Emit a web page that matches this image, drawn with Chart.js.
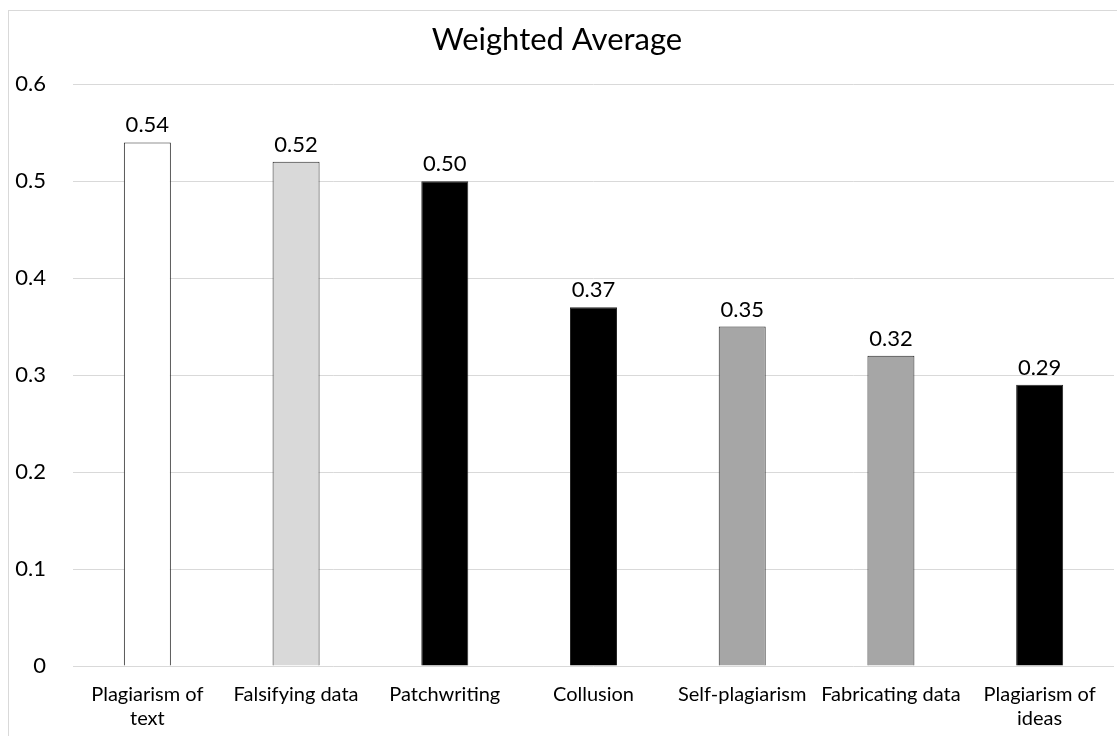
<!DOCTYPE html>
<html>
<head>
<meta charset="utf-8">
<script src="https://cdn.jsdelivr.net/npm/chart.js@4/dist/chart.umd.min.js"></script>
<style>
  html, body { margin: 0; padding: 0; background: #ffffff; }
  #wrap { position: relative; width: 1117px; height: 736px; }
</style>
</head>
<body>
<div id="wrap"><canvas id="chart" width="1117" height="736"></canvas></div>
<script>
// Misconduct categories and their weighted averages
const categories = [
  ["Plagiarism of", "text"],
  "Falsifying data",
  "Patchwriting",
  "Collusion",
  "Self-plagiarism",
  "Fabricating data",
  ["Plagiarism of", "ideas"]
];
const weightedAverage = [0.54, 0.52, 0.50, 0.37, 0.35, 0.32, 0.29];
const barColors = ["#ffffff", "#d9d9d9", "#000000", "#000000", "#a6a6a6", "#a6a6a6", "#000000"];
const yTickValues = [0, 0.1, 0.2, 0.3, 0.4, 0.5, 0.6];

const FONT = "Lato, 'Open Sans', sans-serif";

// Thin frame around the whole chart
const framePlugin = {
  id: "frame",
  beforeDraw(chart) {
    const ctx = chart.ctx;
    ctx.save();
    ctx.strokeStyle = "#d9d9d9";
    ctx.lineWidth = 1;
    ctx.strokeRect(8.5, 10.5, chart.width + 20, chart.height + 20);
    ctx.restore();
  }
};

// Value label above each bar
const valueLabels = {
  id: "valueLabels",
  afterDatasetsDraw(chart) {
    const ctx = chart.ctx;
    const meta = chart.getDatasetMeta(0);
    ctx.save();
    ctx.font = "22px " + FONT;
    ctx.fillStyle = "#000000";
    ctx.textAlign = "center";
    ctx.textBaseline = "bottom";
    meta.data.forEach((bar, i) => {
      const v = chart.data.datasets[0].data[i];
      ctx.fillText(v.toFixed(2), bar.x, bar.y - 6);
    });
    ctx.restore();
  }
};

new Chart(document.getElementById("chart"), {
  type: "bar",
  data: {
    labels: categories,
    datasets: [{
      label: "Weighted Average",
      data: weightedAverage,
      backgroundColor: barColors,
      borderColor: "#262626",
      borderWidth: 1,
      barPercentage: 0.316,
      categoryPercentage: 1.0
    }]
  },
  options: {
    responsive: false,
    animation: false,
    devicePixelRatio: 1,
    layout: { padding: { left: 0, right: 3, top: 0, bottom: 0 } },
    plugins: {
      legend: { display: false },
      tooltip: { enabled: false },
      title: {
        display: true,
        text: "Weighted Average",
        color: "#000000",
        font: { family: FONT, size: 31, weight: "normal", lineHeight: 1.2 },
        padding: { top: 21, bottom: 26 }
      }
    },
    scales: {
      x: {
        grid: { display: false, drawTicks: false },
        border: { display: false },
        ticks: {
          color: "#000000",
          font: { family: FONT, size: 20, lineHeight: 1.2 },
          padding: 17,
          maxRotation: 0,
          autoSkip: false
        },
        afterFit(scale) { scale.height = 70; }
      },
      y: {
        min: 0,
        max: 0.6,
        afterBuildTicks(scale) {
          scale.ticks = yTickValues.map(v => ({ value: v }));
        },
        grid: { color: "#d9d9d9", lineWidth: 1, drawTicks: false },
        border: { display: false },
        ticks: {
          color: "#000000",
          font: { family: FONT, size: 22 },
          padding: 27,
          callback: (v) => String(v)
        },
        afterFit(scale) { scale.width = 73; }
      }
    }
  },
  plugins: [framePlugin, valueLabels]
});
</script>
</body>
</html>
